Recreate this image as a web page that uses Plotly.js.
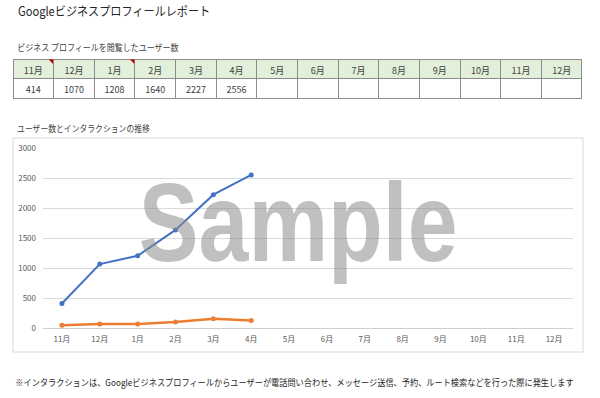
<!DOCTYPE html>
<html>
<head>
<meta charset="utf-8">
<script src="https://cdn.plot.ly/plotly-3.0.1.min.js"></script>
<style>html,body{margin:0;padding:0;background:#fff;}#chart{width:600px;height:398px;}</style>
</head>
<body>
<div id="chart"></div>
<script>
// ---- data ----
const months = ['11月','12月','1月','2月','3月','4月','5月','6月','7月','8月','9月','10月','11月','12月'];
const users = [414, 1070, 1208, 1640, 2227, 2556];
const interactions = [50, 72, 70, 105, 160, 128];
const mainTitle = 'Googleビジネスプロフィールレポート';
const tableTitle = 'ビジネス プロフィールを閲覧したユーザー数';
const chartTitle = 'ユーザー数とインタラクションの推移';
const footnote = '※インタラクションは、Googleビジネスプロフィールからユーザーが電話問い合わせ、メッセージ送信、予約、ルート検索などを行った際に発生します';
const watermark = 'Sample';
const commentCols = [0, 2]; // cells with red comment markers

// ---- helpers (pixel -> paper) ----
const W = 600, H = 398;
const px = x => x / W;
const py = y => 1 - y / H;
const FONT = '"Noto Sans CJK JP", "Noto Sans", sans-serif';

const idx = months.map((m, i) => i);

const tableTrace = {
  type: 'table',
  domain: {x: [px(13), px(582)], y: [py(99), py(59)]},
  columnwidth: months.map(() => 1),
  header: {
    values: months,
    fill: {color: '#e2efda'},
    line: {color: '#8c8c8c', width: 1},
    height: 19,
    align: 'center',
    font: {family: FONT, size: 9, color: '#404040'}
  },
  cells: {
    values: months.map((m, i) => [users[i] !== undefined ? String(users[i]) : '']),
    fill: {color: '#ffffff'},
    line: {color: '#8c8c8c', width: 1},
    height: 20,
    align: 'center',
    font: {family: FONT, size: 9, color: '#404040'}
  }
};

const userTrace = {
  type: 'scatter', mode: 'lines+markers',
  x: idx.slice(0, users.length), y: users,
  line: {color: '#4472c4', width: 2},
  marker: {color: '#4472c4', size: 5},
  xaxis: 'x', yaxis: 'y', showlegend: false, hoverinfo: 'skip'
};
const interTrace = {
  type: 'scatter', mode: 'lines+markers',
  x: idx.slice(0, interactions.length), y: interactions,
  line: {color: '#ed7d31', width: 2.5},
  marker: {color: '#ed7d31', size: 5},
  xaxis: 'x', yaxis: 'y', showlegend: false, hoverinfo: 'skip'
};

const colW = (582 - 13) / months.length;
const shapes = [
  {type: 'rect', xref: 'paper', yref: 'paper', x0: px(13), x1: px(583), y0: py(352), y1: py(138),
   line: {color: '#d9d9d9', width: 1}, fillcolor: 'rgba(0,0,0,0)', layer: 'below'}
];
commentCols.forEach(c => {
  const xr = 13 + colW * (c + 1);
  shapes.push({type: 'path', xref: 'paper', yref: 'paper',
    path: `M ${px(xr - 5)} ${py(59.5)} L ${px(xr - 0.5)} ${py(59.5)} L ${px(xr - 0.5)} ${py(64)} Z`,
    fillcolor: '#c00000', line: {width: 0}, layer: 'above'});
});

const annotations = [
  {text: mainTitle, xref: 'paper', yref: 'paper', x: px(16), y: py(11), xanchor: 'left', yanchor: 'middle',
   showarrow: false, font: {family: FONT, size: 12.5, color: '#262626'}},
  {text: tableTitle, xref: 'paper', yref: 'paper', x: px(15), y: py(47), xanchor: 'left', yanchor: 'middle',
   showarrow: false, font: {family: FONT, size: 9, color: '#404040'}},
  {text: chartTitle, xref: 'paper', yref: 'paper', x: px(15), y: py(128), xanchor: 'left', yanchor: 'middle',
   showarrow: false, font: {family: FONT, size: 9, color: '#404040'}},
  {text: footnote, xref: 'paper', yref: 'paper', x: px(13), y: py(382), xanchor: 'left', yanchor: 'middle',
   showarrow: false, font: {family: FONT, size: 9, color: '#262626'}},
  {text: '<b>' + watermark + '</b>', xref: 'paper', yref: 'paper', x: px(298), y: py(222), xanchor: 'center', yanchor: 'middle',
   showarrow: false, font: {family: '"Liberation Sans", Arial, sans-serif', size: 112, color: 'rgba(140,140,140,0.55)'}}
];

const layout = {
  width: W, height: H,
  margin: {l: 0, r: 0, t: 0, b: 0},
  paper_bgcolor: '#ffffff', plot_bgcolor: '#ffffff',
  showlegend: false,
  xaxis: {
    domain: [px(43), px(573)], range: [-0.5, months.length - 0.5],
    tickmode: 'array', tickvals: idx, ticktext: months,
    showgrid: false, zeroline: false, showline: false, ticks: '', ticklabelstandoff: 5,
    tickfont: {family: FONT, size: 8, color: '#595959'}, fixedrange: true
  },
  yaxis: {
    domain: [py(328.3), py(148.3)], range: [0, 3000],
    tickmode: 'linear', tick0: 0, dtick: 500,
    showgrid: true, gridcolor: '#d9d9d9', gridwidth: 1,
    zeroline: true, zerolinecolor: '#cfcfcf', zerolinewidth: 1,
    showline: false, ticks: '', ticklabelstandoff: 6,
    tickfont: {family: FONT, size: 8, color: '#595959'}, fixedrange: true
  },
  shapes: shapes,
  annotations: annotations
};

// horizontal condensing to imitate the narrower original typefaces
const condense = [
  {text: watermark, k: 0.8, anchor: 'center'},
  {text: mainTitle, k: 0.89, anchor: 'left'},
  {text: tableTitle, k: 0.89, anchor: 'left'},
  {text: chartTitle, k: 0.87, anchor: 'left'},
  {text: footnote, k: 0.91, anchor: 'left'}
];

Plotly.newPlot('chart', [tableTrace, userTrace, interTrace], layout, {displayModeBar: false, staticPlot: true}).then(() => {
  document.querySelectorAll('.annotation-text').forEach(t => {
    const c = condense.find(d => d.text === t.textContent);
    if (!c) return;
    const b = t.getBBox();
    const ax = c.anchor === 'center' ? b.x + b.width / 2 : b.x;
    const prev = t.getAttribute('transform') || '';
    t.setAttribute('transform', prev + ` translate(${ax},0) scale(${c.k},1) translate(${-ax},0)`);
  });
});
</script>
</body>
</html>
